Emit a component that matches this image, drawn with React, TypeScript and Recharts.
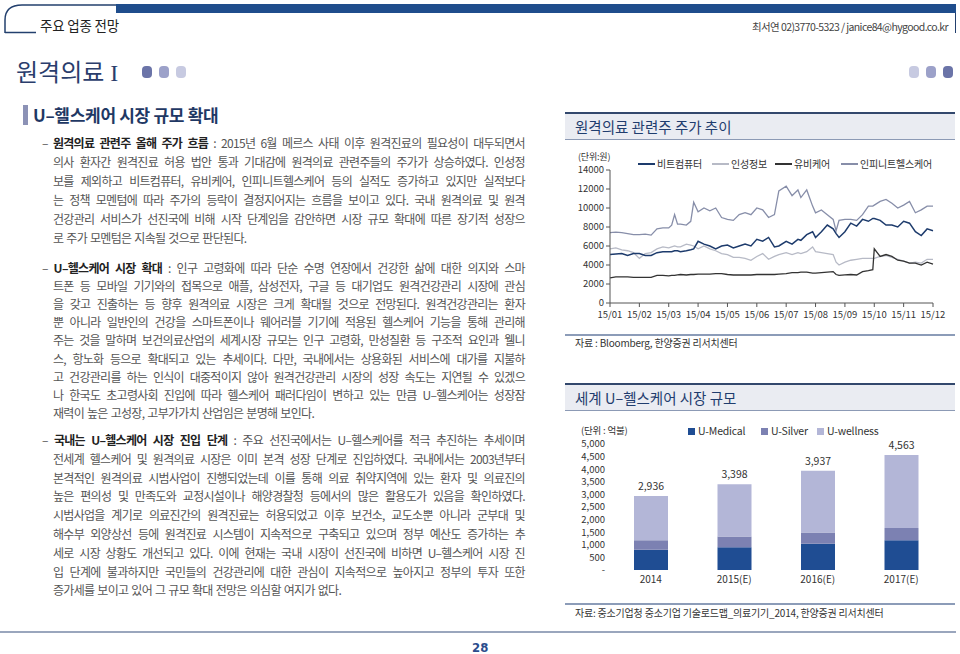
import React from 'react'
import { LineChart, Line, XAxis, YAxis, BarChart, Bar, LabelList } from 'recharts'

const FONT = '"Noto Sans CJK KR", "Noto Sans", sans-serif'

// ---- line chart: 원격의료 관련주 주가 추이 (x = months since 15/01) ----
const MONTH_LABELS = ['15/01', '15/02', '15/03', '15/04', '15/05', '15/06', '15/07', '15/08', '15/09', '15/10', '15/11', '15/12']
const MONTH_TICKS = [0, 1, 2, 3, 4, 5, 6, 7, 8, 9, 10, 11]
const PRICE_TICKS = [0, 2000, 4000, 6000, 8000, 10000, 12000, 14000]
const T = [0, 0.2, 0.4, 0.6, 0.8, 1.0, 1.2, 1.4, 1.6, 1.8, 2.0, 2.1, 2.2, 2.3, 2.4, 2.6, 2.75, 2.85, 3.0, 3.2, 3.4, 3.6, 3.8, 4.0, 4.2, 4.4, 4.6, 4.8, 5.0, 5.2, 5.4, 5.6, 5.75, 6.0, 6.2, 6.4, 6.5, 6.7, 6.9, 7.0, 7.2, 7.4, 7.6, 7.7, 7.8, 8.0, 8.2, 8.4, 8.6, 8.8, 8.95, 9.0, 9.2, 9.4, 9.6, 9.8, 10.0, 10.2, 10.4, 10.6, 10.8, 11.0]
const BIT_COMPUTER = [5100, 5150, 5200, 5000, 5200, 5200, 5000, 5000, 5300, 5400, 5400, 5400, 5500, 5500, 5400, 5500, 5600, 5700, 6500, 6200, 6000, 5700, 6000, 6100, 5800, 6000, 6200, 6000, 6700, 6500, 6900, 5900, 6000, 6500, 6200, 6700, 6600, 7200, 7500, 6900, 7500, 8200, 7800, 7300, 6900, 7500, 8400, 8100, 8800, 8600, 8900, 8900, 8700, 8200, 8200, 8000, 8600, 8400, 7500, 7100, 7800, 7600]
const INSUNG = [5700, 5800, 5600, 5500, 5300, 4700, 5200, 5300, 5700, 5900, 5800, 5900, 6000, 5900, 5900, 6200, 6100, 6000, 5700, 6000, 5700, 5500, 5200, 5100, 4800, 4800, 4700, 4500, 4900, 5200, 4600, 4900, 5100, 5300, 5100, 5300, 5200, 5400, 5900, 5400, 5300, 5200, 5100, 4300, 4000, 4300, 4500, 4600, 4700, 4700, 4700, 4700, 4900, 5000, 4800, 4600, 4400, 4200, 4300, 4200, 4600, 4600]
const UBCARE = [2650, 2750, 2750, 2750, 2700, 2700, 2700, 2700, 2900, 2900, 2850, 2900, 2900, 2950, 3000, 2950, 3000, 3000, 3050, 3050, 3050, 3100, 3100, 3000, 2950, 2950, 2950, 2950, 3000, 3000, 3000, 3000, 3050, 3100, 3200, 3200, 3250, 3250, 3150, 3150, 3200, 3250, 3300, 3000, 2900, 2950, 3000, 2950, 3300, 3400, 3500, 5700, 4900, 5100, 4900, 4500, 4400, 4200, 4200, 4000, 4300, 4100]
const INFINITT = [7400, 7450, 7400, 7300, 7200, 7200, 7250, 7150, 7800, 7900, 7900, 8200, 9300, 8300, 8300, 8200, 8600, 10600, 9600, 10000, 9700, 10000, 9000, 8800, 8700, 9300, 9500, 9300, 10000, 9800, 9000, 9300, 11800, 12300, 11300, 11900, 11100, 11900, 10200, 9500, 9800, 9300, 8800, 7600, 8700, 8800, 8800, 8700, 9300, 10200, 10200, 10300, 10700, 10900, 10500, 10000, 10300, 10700, 9500, 9800, 10200, 10200]

const C_BIT = '#1d3b6c'
const C_INS = '#b7bac6'
const C_UBI = '#333333'
const C_INF = '#878ea9'

// ---- bar chart: 세계 U-헬스케어 시장 규모 (억불) ----
const YEARS = ['2014', '2015(E)', '2016(E)', '2017(E)']
const U_MEDICAL = [800, 905, 1040, 1176]
const U_SILVER = [376, 425, 453, 491]
const U_WELLNESS = [1760, 2068, 2444, 2896]
const TOTALS = [2936, 3398, 3937, 4563]
const MARKET_TICKS = [0, 500, 1000, 1500, 2000, 2500, 3000, 3500, 4000, 4500, 5000]

const C_MED = '#1f4d93'
const C_SIL = '#7c81b2'
const C_WEL = '#b3b6d7'

// ---- body text ----
const P1_BOLD = '원격의료 관련주 올해 주가 흐름'
const P1 = [
  ': 2015년 6월 메르스 사태 이후 원격진료의 필요성이 대두되면서',
  '의사 환자간 원격진료 허용 법안 통과 기대감에 원격의료 관련주들의 주가가 상승하였다. 인성정',
  '보를 제외하고 비트컴퓨터, 유비케어, 인피니트헬스케어 등의 실적도 증가하고 있지만 실적보다',
  '는 정책 모멘텀에 따라 주가의 등락이 결정지어지는 흐름을 보이고 있다. 국내 원격의료 및 원격',
  '건강관리 서비스가 선진국에 비해 시작 단계임을 감안하면 시장 규모 확대에 따른 장기적 성장으',
  '로 주가 모멘텀은 지속될 것으로 판단된다.',
]
const P2_BOLD = 'U–헬스케어 시장 확대'
const P2 = [
  ': 인구 고령화에 따라 단순 수명 연장에서 건강한 삶에 대한 의지와 스마',
  '트폰 등 모바일 기기와의 접목으로 애플, 삼성전자, 구글 등 대기업도 원격건강관리 시장에 관심',
  '을 갖고 진출하는 등 향후 원격의료 시장은 크게 확대될 것으로 전망된다. 원격건강관리는 환자',
  '뿐 아니라 일반인의 건강을 스마트폰이나 웨어러블 기기에 적용된 헬스케어 기능을 통해 관리해',
  '주는 것을 말하며 보건의료산업의 세계시장 규모는 인구 고령화, 만성질환 등 구조적 요인과 웰니',
  '스, 항노화 등으로 확대되고 있는 추세이다. 다만, 국내에서는 상용화된 서비스에 대가를 지불하',
  '고 건강관리를 하는 인식이 대중적이지 않아 원격건강관리 시장의 성장 속도는 지연될 수 있겠으',
  '나 한국도 초고령사회 진입에 따라 헬스케어 패러다임이 변하고 있는 만큼 U–헬스케어는 성장잠',
  '재력이 높은 고성장, 고부가가치 산업임은 분명해 보인다.',
]
const P3_BOLD = '국내는 U–헬스케어 시장 진입 단계'
const P3 = [
  ': 주요 선진국에서는 U–헬스케어를 적극 추진하는 추세이며',
  '전세계 헬스케어 및 원격의료 시장은 이미 본격 성장 단계로 진입하였다. 국내에서는 2003년부터',
  '본격적인 원격의료 시범사업이 진행되었는데 이를 통해 의료 취약지역에 있는 환자 및 의료진의',
  '높은 편의성 및 만족도와 교정시설이나 해양경찰청 등에서의 많은 활용도가 있음을 확인하였다.',
  '시범사업을 계기로 의료진간의 원격진료는 허용되었고 이후 보건소, 교도소뿐 아니라 군부대 및',
  '해수부 외양상선 등에 원격진료 시스템이 지속적으로 구축되고 있으며 정부 예산도 증가하는 추',
  '세로 시장 상황도 개선되고 있다. 이에 현재는 국내 시장이 선진국에 비하면 U–헬스케어 시장 진',
  '입 단계에 불과하지만 국민들의 건강관리에 대한 관심이 지속적으로 높아지고 정부의 투자 또한',
  '증가세를 보이고 있어 그 규모 확대 전망은 의심할 여지가 없다.',
]

const TEXT_STYLE: React.CSSProperties = {
  position: 'absolute',
  fontFamily: FONT,
  fontSize: 12,
  letterSpacing: -0.7,
  color: '#555',
  height: 18,
  lineHeight: '18px',
  whiteSpace: 'nowrap',
}

function Paragraph({ bold, lines, top, step }: { bold: string; lines: string[]; top: number; step: number }) {
  return (
    <>
      {lines.map((ln, i) => {
        const y = top + i * step - 9
        const isLast = i === lines.length - 1
        const words = ln.split(' ')
        if (i === 0) {
          const items = [
            { w: '–', b: false },
            ...bold.split(' ').map((w) => ({ w, b: true })),
            ...words.map((w) => ({ w, b: false })),
          ]
          return (
            <div key={i} style={{ ...TEXT_STYLE, top: y, left: 42, width: 483, display: 'flex', justifyContent: 'space-between' }}>
              {items.map((it, j) => (
                <span key={j} style={it.b ? { fontWeight: 700, color: '#222' } : undefined}>{it.w}</span>
              ))}
            </div>
          )
        }
        if (isLast) {
          return <div key={i} style={{ ...TEXT_STYLE, top: y, left: 53, wordSpacing: 1 }}>{ln}</div>
        }
        return (
          <div key={i} style={{ ...TEXT_STYLE, top: y, left: 53, width: 472, display: 'flex', justifyContent: 'space-between' }}>
            {words.map((w, j) => <span key={j}>{w}</span>)}
          </div>
        )
      })}
    </>
  )
}

function Dot({ x, color }: { x: number; color: string }) {
  return <div style={{ position: 'absolute', left: x, top: 66, width: 10, height: 12, borderRadius: 4, background: color }} />
}

function TitleBox({ top, text }: { top: number; text: string }) {
  return (
    <div style={{
      position: 'absolute', left: 565, top, width: 390, height: 25,
      background: '#eaecf2', borderTop: '2px solid #33486d', borderBottom: '1px solid #8c9ab5',
    }}>
      <div style={{ position: 'absolute', left: 10, top: 0, lineHeight: '25px', fontFamily: FONT, fontSize: 14.5, color: '#1f3d6e' }}>{text}</div>
    </div>
  )
}

function Label({ x, y, text, size = 10, color = '#333' }: { x: number; y: number; text: string; size?: number; color?: string }) {
  return (
    <div style={{ position: 'absolute', left: x, top: y - 7, height: 14, lineHeight: '14px', fontFamily: FONT, fontSize: size, color, whiteSpace: 'nowrap', letterSpacing: -0.2 }}>
      {text}
    </div>
  )
}

function LegendLine({ x, color, text }: { x: number; color: string; text: string }) {
  return (
    <>
      <div style={{ position: 'absolute', left: x, top: 163, width: 17, height: 2, background: color }} />
      <Label x={x + 19} y={164} text={text} />
    </>
  )
}

function LegendBox({ x, color, text }: { x: number; color: string; text: string }) {
  return (
    <>
      <div style={{ position: 'absolute', left: x, top: 428, width: 7, height: 7, background: color }} />
      <Label x={x + 10} y={431} text={text} size={10.5} />
    </>
  )
}

export default function App() {
  const lineData = T.map((t, i) => ({
    t,
    bit: BIT_COMPUTER[i],
    ins: INSUNG[i],
    ubi: UBCARE[i],
    inf: INFINITT[i],
  }))
  const barData = YEARS.map((year, i) => ({
    year,
    medical: U_MEDICAL[i],
    silver: U_SILVER[i],
    wellness: U_WELLNESS[i],
    total: TOTALS[i],
  }))
  const tick = { fontFamily: FONT, fontSize: 9.5, fill: '#333' }

  return (
    <div style={{ position: 'absolute', left: 0, top: 0, width: 960, height: 654, background: '#fff', overflow: 'hidden', fontFamily: FONT }}>
      {/* page header */}
      <svg width={960} height={40} style={{ position: 'absolute', left: 0, top: 0 }}>
        <path d="M5 33 L5 20 C5 10 11 5 22 5 L118 5" stroke="#23406e" strokeWidth={1.5} fill="none" />
        <line x1={5} y1={32.5} x2={36} y2={32.5} stroke="#23406e" strokeWidth={1.5} />
        <rect x={116} y={4} width={840} height={9} fill="#1f4d8c" />
        <line x1={955.5} y1={13} x2={955.5} y2={33} stroke="#23406e" strokeWidth={1} />
      </svg>
      <Label x={40} y={25} text="주요 업종 전망" size={13.5} color="#222" />
      <div style={{ position: 'absolute', right: 12, top: 19, fontFamily: FONT, fontSize: 10.5, color: '#444', letterSpacing: -0.6, whiteSpace: 'nowrap' }}>
        최서연 02)3770-5323 / janice84@hygood.co.kr
      </div>

      {/* section title */}
      <div style={{ position: 'absolute', left: 16, top: 56, fontSize: 24, lineHeight: '30px', color: '#2a3d6c', whiteSpace: 'nowrap' }}>
        <span style={{ fontFamily: FONT }}>원격의료</span>
        <span style={{ fontFamily: '"Liberation Serif", serif', marginLeft: 6 }}>I</span>
      </div>
      <Dot x={142} color="#6b74a8" />
      <Dot x={159} color="#9ca1c9" />
      <Dot x={176} color="#c7cae1" />
      <Dot x={909} color="#c7cae1" />
      <Dot x={926} color="#9ca1c9" />
      <Dot x={943} color="#6b74a8" />

      <div style={{ position: 'absolute', left: 23, top: 105, width: 5, height: 20, background: '#8c92b6' }} />
      <div style={{ position: 'absolute', left: 33, top: 103, lineHeight: '24px', fontFamily: FONT, fontSize: 17, fontWeight: 700, color: '#1f3864', whiteSpace: 'nowrap', letterSpacing: -0.3 }}>
        U–헬스케어 시장 규모 확대
      </div>

      <Paragraph bold={P1_BOLD} lines={P1} top={143} step={19} />
      <Paragraph bold={P2_BOLD} lines={P2} top={268} step={18.1} />
      <Paragraph bold={P3_BOLD} lines={P3} top={440} step={18.8} />

      {/* chart 1 */}
      <TitleBox top={112} text="원격의료 관련주 주가 추이" />
      <Label x={578} y={157} text="(단위:원)" size={9} />
      <LegendLine x={638} color={C_BIT} text="비트컴퓨터" />
      <LegendLine x={712} color={C_INS} text="인성정보" />
      <LegendLine x={775} color={C_UBI} text="유비케어" />
      <LegendLine x={841} color={C_INF} text="인피니트헬스케어" />
      <div style={{ position: 'absolute', left: 565, top: 150 }}>
        <LineChart width={390} height={177} data={lineData} margin={{ top: 20, right: 22, bottom: 0, left: 0 }}>
          <XAxis
            dataKey="t"
            type="number"
            domain={[0, 11]}
            ticks={MONTH_TICKS}
            interval={0}
            tickFormatter={(v: number) => MONTH_LABELS[v]}
            tick={tick}
            tickSize={4}
            tickMargin={4}
            height={24}
            stroke="#555"
          />
          <YAxis
            domain={[0, 14000]}
            ticks={PRICE_TICKS}
            interval={0}
            tick={tick}
            tickSize={4}
            width={45}
            stroke="#555"
          />
          <Line dataKey="inf" stroke={C_INF} strokeWidth={1.3} dot={false} activeDot={false} isAnimationActive={false} />
          <Line dataKey="ins" stroke={C_INS} strokeWidth={1.3} dot={false} activeDot={false} isAnimationActive={false} />
          <Line dataKey="ubi" stroke={C_UBI} strokeWidth={1.3} dot={false} activeDot={false} isAnimationActive={false} />
          <Line dataKey="bit" stroke={C_BIT} strokeWidth={1.5} dot={false} activeDot={false} isAnimationActive={false} />
        </LineChart>
      </div>
      <div style={{ position: 'absolute', left: 565, top: 334, width: 390, height: 2, background: '#8c9cb8' }} />
      <Label x={575} y={343} text="자료 : Bloomberg, 한양증권 리서치센터" size={10} />

      {/* chart 2 */}
      <TitleBox top={383} text="세계 U–헬스케어 시장 규모" />
      <Label x={581} y={430} text="(단위 : 억불)" size={9.5} />
      <LegendBox x={688} color={C_MED} text="U-Medical" />
      <LegendBox x={761} color={C_SIL} text="U-Silver" />
      <LegendBox x={817} color={C_WEL} text="U-wellness" />
      <div style={{ position: 'absolute', left: 565, top: 426 }}>
        <BarChart width={390} height={172} data={barData} margin={{ top: 18, right: 12, bottom: 0, left: 0 }} barSize={34}>
          <XAxis dataKey="year" tick={{ ...tick, fontSize: 10 }} axisLine={false} tickLine={false} tickSize={0} tickMargin={6} height={28} />
          <YAxis
            domain={[0, 5000]}
            ticks={MARKET_TICKS}
            interval={0}
            tickFormatter={(v: number) => (v === 0 ? '-' : v.toLocaleString('en-US'))}
            tick={tick}
            axisLine={false}
            tickLine={false}
            tickSize={0}
            tickMargin={4}
            width={44}
          />
          <Bar dataKey="medical" stackId="a" fill={C_MED} isAnimationActive={false} />
          <Bar dataKey="silver" stackId="a" fill={C_SIL} isAnimationActive={false} />
          <Bar dataKey="wellness" stackId="a" fill={C_WEL} isAnimationActive={false}>
            <LabelList
              dataKey="total"
              position="top"
              offset={6}
              formatter={(v: number) => v.toLocaleString('en-US')}
              style={{ fontFamily: FONT, fontSize: 10.5, fill: '#333' }}
            />
          </Bar>
        </BarChart>
      </div>
      <div style={{ position: 'absolute', left: 565, top: 603, width: 390, height: 2, background: '#8c9cb8' }} />
      <Label x={575} y={613} text="자료: 중소기업청 중소기업 기술로드맵_의료기기_2014, 한양증권 리서치센터" size={10} />

      {/* footer */}
      <div style={{ position: 'absolute', left: 0, top: 631, width: 956, height: 2, background: '#9aa6bd' }} />
      <div style={{ position: 'absolute', left: 472, top: 640, lineHeight: '16px', fontFamily: '"DejaVu Sans Condensed", "DejaVu Sans", sans-serif', fontSize: 13, fontWeight: 700, color: '#2b4c8c' }}>
        28
      </div>
    </div>
  )
}
